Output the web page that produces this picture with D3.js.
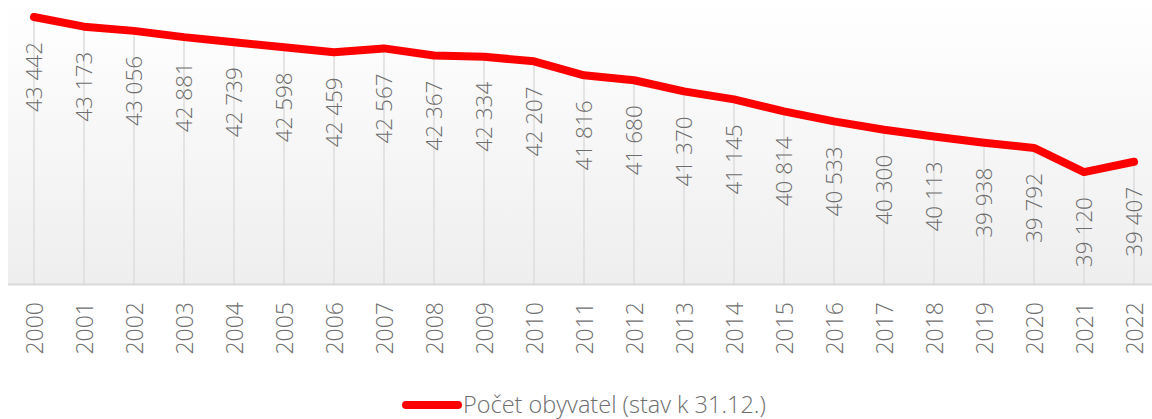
<!DOCTYPE html>
<html>
<head>
<meta charset="utf-8">
<script src="https://cdn.jsdelivr.net/npm/d3@7"></script>
<style>
  html, body { margin: 0; padding: 0; background: #fff; }
  text { font-family: "Open Sans", sans-serif; font-weight: 300; fill: #6e6e6e; }
</style>
</head>
<body>
<svg id="chart" width="1152" height="419"></svg>
<script>
// Chart data
var years = ["2000","2001","2002","2003","2004","2005","2006","2007","2008","2009","2010",
  "2011","2012","2013","2014","2015","2016","2017","2018","2019","2020","2021","2022"];
var population = [43442, 43173, 43056, 42881, 42739, 42598, 42459, 42567, 42367, 42334, 42207,
  41816, 41680, 41370, 41145, 40814, 40533, 40300, 40113, 39938, 39792, 39120, 39407];
var seriesName = "Počet obyvatel (stav k 31.12.)";
var yDomain = [36000, 44000];

// Colours
var lineColour = '#ff0000';
var gridColour = '#dcdcdc';
var baseColour = '#d9d9d9';

var svg = d3.select("#chart");
var plotLeft = 8, plotRight = 1152, plotTop = -3, plotBottom = 284;

var x = d3.scalePoint()
  .domain(years)
  .range([34, 1134]);

var y = d3.scaleLinear()
  .domain(yDomain)
  .range([plotBottom, plotTop]);

var fmt = function (v) { return d3.format(",")(v).replace(/,/g, " "); };

// background gradient
var defs = svg.append("defs");
var grad = defs.append("linearGradient")
  .attr("id", "bg")
  .attr("x1", 0).attr("y1", 0).attr("x2", 0).attr("y2", 1);
grad.append("stop").attr("offset", "0%").attr("stop-color", "#ffffff");
grad.append("stop").attr("offset", "100%").attr("stop-color", "#eeeeee");

svg.append("rect")
  .attr("x", plotLeft)
  .attr("y", 0)
  .attr("width", plotRight - plotLeft)
  .attr("height", plotBottom)
  .attr("fill", "url(#bg)");

// vertical grid lines
svg.append("g").selectAll("line")
  .data(years)
  .enter().append("line")
  .attr("x1", function (d) { return x(d); })
  .attr("x2", function (d) { return x(d); })
  .attr("y1", function (d, i) { return y(population[i]); })
  .attr("y2", plotBottom)
  .attr("stroke", gridColour)
  .attr("stroke-width", 1.5);

// baseline
svg.append("line")
  .attr("x1", plotLeft).attr("x2", plotRight)
  .attr("y1", plotBottom + 0.5).attr("y2", plotBottom + 0.5)
  .attr("stroke", baseColour)
  .attr("stroke-width", 2);

// x axis labels
var xAxis = svg.append("g")
  .attr("transform", "translate(0," + plotBottom + ")")
  .call(d3.axisBottom(x).tickSize(0).tickPadding(0));
xAxis.select(".domain").remove();
xAxis.selectAll("text")
  .attr("font-size", 23)
  .attr("fill", null)
  .attr("y", 0)
  .attr("dy", 0)
  .attr("text-anchor", "end")
  .attr("transform", "translate(8,18) rotate(-90)");

// data line
var line = d3.line()
  .x(function (d, i) { return x(years[i]); })
  .y(function (d) { return y(d); });

svg.append("path")
  .datum(population)
  .attr("d", line)
  .attr("fill", "none")
  .attr("stroke", lineColour)
  .attr("stroke-width", 8)
  .attr("stroke-linejoin", "round")
  .attr("stroke-linecap", "round");

// value labels
svg.append("g").selectAll("text")
  .data(population)
  .enter().append("text")
  .attr("font-size", 22.5)
  .attr("text-anchor", "end")
  .attr("transform", function (d, i) {
    return "translate(" + (x(years[i]) + 8) + "," + (y(d) + 25) + ") rotate(-90)";
  })
  .text(fmt);

// legend
var legend = svg.append("g").attr("transform", "translate(402,405)");
legend.append("line")
  .attr("x1", 4).attr("x2", 56)
  .attr("y1", 0).attr("y2", 0)
  .attr("stroke", lineColour)
  .attr("stroke-width", 8)
  .attr("stroke-linecap", "round");
legend.append("text")
  .attr("x", 61)
  .attr("y", 8)
  .attr("font-size", 23.5)
  .text(seriesName);
</script>
</body>
</html>
